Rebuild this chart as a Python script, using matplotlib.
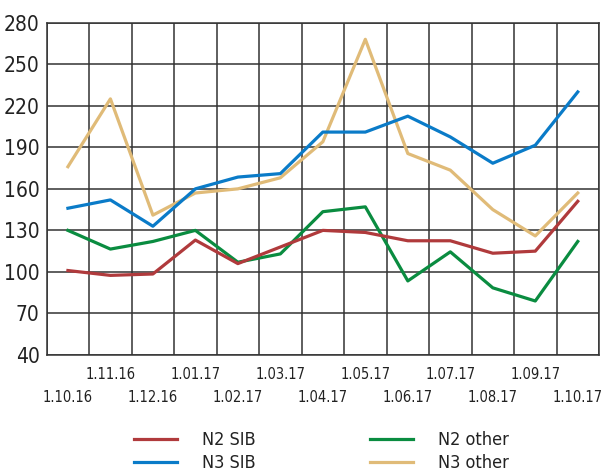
import matplotlib
matplotlib.use("Agg")
import matplotlib.pyplot as plt
from matplotlib.lines import Line2D

plt.rcParams['font.family'] = ['Liberation Sans Narrow', 'DejaVu Sans']
plt.rcParams['font.stretch'] = 'condensed'

dates = ['1.10.16', '1.11.16', '1.12.16', '1.01.17', '1.02.17', '1.03.17', '1.04.17',
         '1.05.17', '1.06.17', '1.07.17', '1.08.17', '1.09.17', '1.10.17']

n2_sib = [101, 97.5, 98.5, 123, 106, 118, 130, 128.5, 122.5, 122.5, 113.5, 115, 151]
n3_sib = [146, 152, 133, 160, 168.5, 171, 201, 201, 212.5, 197.5, 178.5, 191.5, 230]
n2_other = [130, 116.5, 122, 130, 107, 113, 143.5, 147, 93.5, 114.5, 88.5, 79, 122]
n3_other = [176, 225, 141, 157, 160, 168, 194, 268, 185.5, 173.5, 145, 126, 157]

colors = {'N2 SIB': '#b03a3c', 'N3 SIB': '#0a7bc8',
          'N2 other': '#0a8c40', 'N3 other': '#e0bb78'}

fig = plt.figure(figsize=(6.03, 4.73), dpi=100)
ax = fig.add_axes([0.0774, 0.2495, 0.916, 0.7025])

x = list(range(len(dates)))
ax.plot(x, n3_other, color=colors['N3 other'], lw=2.3, zorder=3)
ax.plot(x, n3_sib, color=colors['N3 SIB'], lw=2.3, zorder=4)
ax.plot(x, n2_other, color=colors['N2 other'], lw=2.3, zorder=3)
ax.plot(x, n2_sib, color=colors['N2 SIB'], lw=2.3, zorder=4)

ax.set_xlim(-0.5, len(dates) - 0.5)
ax.set_ylim(40, 280)
ax.set_yticks(range(40, 281, 30))

# staggered date labels: even months on the lower row, odd ones on the upper row
ax.set_xticks(x[0::2])
ax.set_xticklabels(dates[0::2])
ax.set_xticks(x[1::2], minor=True)
ax.set_xticklabels(dates[1::2], minor=True)

# vertical grid between the months
ax.vlines([i - 0.5 for i in range(len(dates) + 1)], 40, 280,
          color='#333333', lw=1.1, zorder=1)
ax.grid(True, which='major', axis='y', color='#333333', lw=1.1)
ax.set_axisbelow(True)
for s in ax.spines.values():
    s.set_color('#333333')
    s.set_linewidth(1.1)

ax.tick_params(axis='both', which='both', length=0, colors='#222222')
ax.tick_params(axis='y', labelsize=15, pad=5)
ax.tick_params(axis='x', which='minor', labelsize=10.5, pad=9)
ax.tick_params(axis='x', which='major', labelsize=10.5, pad=25)

order = ['N2 SIB', 'N3 SIB', 'N2 other', 'N3 other']
handles = [Line2D([], [], color=colors[k], lw=2.3) for k in order]
fig.legend(handles, order, ncol=2, loc='center', bbox_to_anchor=(0.533, 0.045),
           frameon=False, fontsize=13, handlelength=2.4, handletextpad=1.4,
           columnspacing=6.3, labelspacing=0.3, labelcolor='#222222')

fig.savefig('out.png', dpi=100)
